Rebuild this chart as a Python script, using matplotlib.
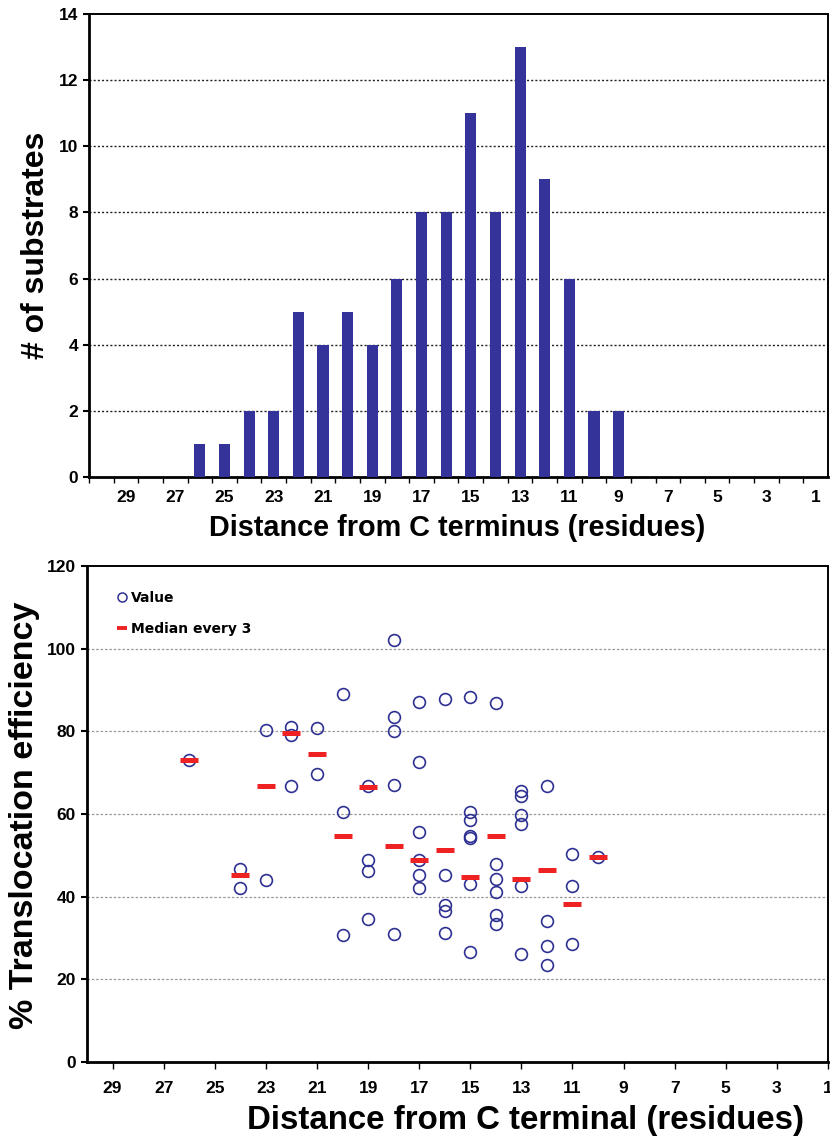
import matplotlib
matplotlib.use("Agg")
import matplotlib.pyplot as plt
from matplotlib.lines import Line2D
import numpy as np

# ---------------- data ----------------
# top chart: number of substrates by distance from C terminus
hist_dist = [30, 29, 28, 27, 26, 25, 24, 23, 22, 21, 20, 19, 18, 17, 16,
             15, 14, 13, 12, 11, 10, 9, 8, 7, 6, 5, 4, 3, 2, 1]
hist_count = [0, 0, 0, 0, 1, 1, 2, 2, 5, 4, 5, 4, 6, 8, 8,
              11, 8, 13, 9, 6, 2, 2, 0, 0, 0, 0, 0, 0, 0, 0]
top_yticks = [0, 2, 4, 6, 8, 10, 12, 14]
x_tick_labels = [29, 27, 25, 23, 21, 19, 17, 15, 13, 11, 9, 7, 5, 3, 1]

# bottom chart: % translocation efficiency values per distance
val_26 = [73.0]
val_24 = [46.6, 42.0]
val_23 = [80.3, 44.1]
val_22 = [81.1, 79.1, 66.7]
val_21 = [80.7, 69.6]
val_20 = [89.0, 60.5, 30.7]
val_19 = [66.7, 48.9, 46.2, 34.5]
val_18 = [102.0, 83.5, 80.1, 67.0, 31.0]
val_17 = [87.1, 72.6, 55.6, 48.9, 45.3, 42.0]
val_16 = [87.9, 45.3, 37.9, 36.6, 31.3]
val_15 = [88.2, 60.6, 58.6, 54.6, 54.3, 43.0, 26.5]
val_14 = [86.9, 48.0, 44.2, 41.1, 35.6, 33.5]
val_13 = [65.5, 64.3, 59.7, 57.7, 42.5, 26.2]
val_12 = [66.7, 34.0, 28.1, 23.4]
val_11 = [50.4, 42.6, 28.5]
val_10 = [49.5]
scatter_groups = {26: val_26, 24: val_24, 23: val_23, 22: val_22, 21: val_21,
                  20: val_20, 19: val_19, 18: val_18, 17: val_17, 16: val_16,
                  15: val_15, 14: val_14, 13: val_13, 12: val_12, 11: val_11,
                  10: val_10}
median_dist = [26, 24, 23, 22, 21, 20, 19, 18, 17, 16, 15, 14, 13, 12, 11, 10]
median_val = [73.0, 45.3, 66.7, 79.5, 74.6, 54.7, 66.6, 52.2, 48.8, 51.4,
              44.7, 54.7, 44.3, 46.5, 38.3, 49.5]
bottom_yticks = [0, 20, 40, 60, 80, 100, 120]

# ---------------- style ----------------
SANS = ['Liberation Sans', 'DejaVu Sans']
BAR_BLUE = '#333399'
PT_BLUE = '#2e3192'
MED_RED = '#ee2222'

W, H = 830, 1144
fig = plt.figure(figsize=(W / 100, H / 100), dpi=100)

def frac_box(x0, y0, x1, y1):
    return [x0 / W, 1 - y1 / H, (x1 - x0) / W, (y1 - y0) / H]

# ---------------- top chart ----------------
ax1 = fig.add_axes(frac_box(89, 14, 828, 477))
ax1.bar(hist_dist, hist_count, width=0.45, color=BAR_BLUE, zorder=3)
ax1.set_xlim(30.5, 0.5)
ax1.set_ylim(0, 14)
ax1.set_yticks(top_yticks)
ax1.set_yticklabels([str(v) for v in top_yticks], fontfamily=SANS,
                    fontweight='bold', fontsize=12.5)
ax1.set_xticks(x_tick_labels)
ax1.set_xticklabels([str(v) for v in x_tick_labels], fontfamily=SANS,
                    fontweight='bold', fontsize=12.5)
ax1.set_xticks([d + 0.5 for d in hist_dist], minor=True)
ax1.tick_params(axis='x', which='major', length=0, pad=9)
ax1.tick_params(axis='x', which='minor', length=4, width=1.0, direction='out')
ax1.tick_params(axis='y', which='major', length=4, width=1.5, direction='out', pad=4)
for v in top_yticks[1:-1]:
    ax1.axhline(v, color='#222222', linestyle=(0, (1.5, 1.5)), linewidth=1.0, zorder=1)
for s in ['left', 'bottom']:
    ax1.spines[s].set_linewidth(2.0)
for s in ['top', 'right']:
    ax1.spines[s].set_linewidth(1.4)

fig.text(36 / W, 1 - 245 / H, '# of substrates', rotation=90, ha='center',
         va='center', fontfamily=SANS, fontweight='bold', fontsize=23)
fig.text(457 / W, 1 - 528 / H, 'Distance from C terminus (residues)',
         ha='center', va='center', fontfamily=SANS, fontweight='bold',
         fontsize=20.8)

# ---------------- bottom chart ----------------
ax2 = fig.add_axes(frac_box(87, 566, 828, 1062))
for d, vals in scatter_groups.items():
    ax2.plot([d] * len(vals), vals, linestyle='none', marker='o',
             markersize=8.5, markerfacecolor='none', markeredgecolor=PT_BLUE,
             markeredgewidth=1.2, zorder=3)
ax2.plot(median_dist, median_val, linestyle='none', marker='_',
         markersize=12.5, markeredgewidth=3.6, color=MED_RED, zorder=4)
ax2.set_xlim(30, 1)
ax2.set_ylim(0, 120)
ax2.set_yticks(bottom_yticks)
ax2.set_yticklabels([str(v) for v in bottom_yticks], fontfamily=SANS,
                    fontweight='bold', fontsize=12.5)
ax2.set_xticks(x_tick_labels)
ax2.set_xticklabels([str(v) for v in x_tick_labels], fontfamily=SANS,
                    fontweight='bold', fontsize=12.5)
ax2.tick_params(axis='x', length=5, width=1.0, direction='out', pad=9)
ax2.tick_params(axis='y', length=4, width=1.5, direction='out', pad=4)
for v in bottom_yticks[1:-1]:
    ax2.axhline(v, color='#999999', linestyle=(0, (2, 1.5)), linewidth=0.9, zorder=1)
for s in ['left', 'bottom']:
    ax2.spines[s].set_linewidth(2.0)
for s in ['top', 'right']:
    ax2.spines[s].set_linewidth(1.4)

handles = [Line2D([], [], linestyle='none', marker='o', markersize=6.5,
                  markerfacecolor='none', markeredgecolor=PT_BLUE, markeredgewidth=1.1),
           Line2D([], [], linestyle='none', marker='_', markersize=7.5,
                  markeredgewidth=2.8, color=MED_RED)]
leg = ax2.legend(handles, ['Value', 'Median every 3'], loc='upper left',
                 bbox_to_anchor=(0.042, 0.95), frameon=False, handlelength=0.6,
                 handletextpad=0.35, borderaxespad=0, borderpad=0,
                 labelspacing=1.25, prop={'family': 'DejaVu Sans', 'weight': 'bold', 'size': 10})

fig.text(25 / W, 1 - 815 / H, '% Translocation efficiency', rotation=90,
         ha='center', va='center', fontfamily=SANS, fontweight='bold', fontsize=24.5)
fig.text(525 / W, 1 - 1120 / H, 'Distance from C terminal (residues)',
         ha='center', va='center', fontfamily=SANS, fontweight='bold',
         fontsize=23.8)

fig.savefig('out.png', dpi=100)
